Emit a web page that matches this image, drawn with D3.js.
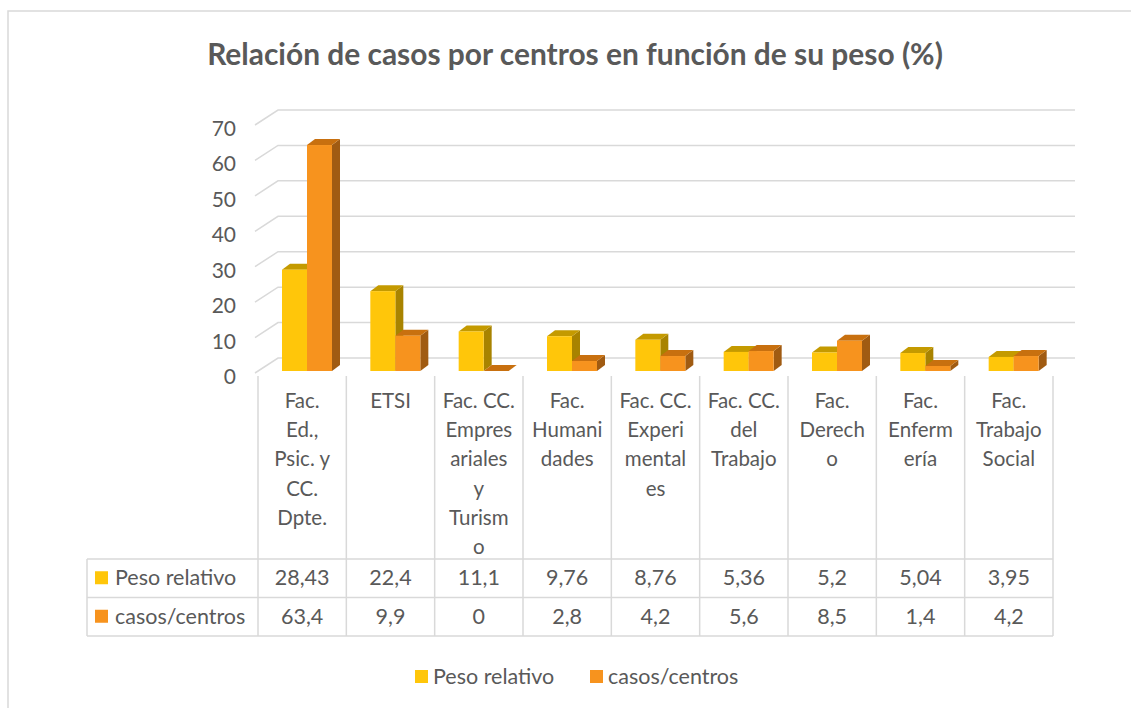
<!DOCTYPE html>
<html>
<head>
<meta charset="utf-8">
<script src="https://cdn.jsdelivr.net/npm/d3@7"></script>
<style>
  body { margin: 0; background: #fff; }
  text { font-family: Lato, 'Open Sans', sans-serif; fill: #595959; }
</style>
</head>
<body>
<div id="chart"></div>
<script>
const title = 'Relación de casos por centros en función de su peso (%)'
const categories = [
    ['Fac.', 'Ed.,', 'Psic. y', 'CC.', 'Dpte.'],
    ['ETSI'],
    ['Fac. CC.', 'Empres', 'ariales', 'y', 'Turism', 'o'],
    ['Fac.', 'Humani', 'dades'],
    ['Fac. CC.', 'Experi', 'mental', 'es'],
    ['Fac. CC.', 'del', 'Trabajo'],
    ['Fac.', 'Derech', 'o'],
    ['Fac.', 'Enferm', 'ería'],
    ['Fac.', 'Trabajo', 'Social'],
]
const seriesNames = ['Peso relativo', 'casos/centros']
const pesoRelativo = [28.43, 22.4, 11.1, 9.76, 8.76, 5.36, 5.2, 5.04, 3.95]
const casosCentros = [63.4, 9.9, 0, 2.8, 4.2, 5.6, 8.5, 1.4, 4.2]
const yTicks = [0, 10, 20, 30, 40, 50, 60, 70]

const width = 1131
const height = 708
const colors = [
    { front: '#FFC60A', top: '#C49A00', side: '#A88300' },
    { front: '#F7931E', top: '#C8700F', side: '#A05B12' },
]
const gridColor = '#d9d9d9'
const fmt = (v) => String(v).replace('.', ',')

const series = [pesoRelativo, casosCentros]
const idx = d3.range(categories.length)

const x = d3.scaleBand().domain(idx).range([258, 1053])
const yFront = d3.scaleLinear().domain([0, 70]).range([373, 125])
const yBar = d3.scaleLinear().domain([0, 70]).range([371, 121.5])
const depth = { dx: 23, dy: -15 }
const barDepth = { dx: 8, dy: -6 }
const barW = 25
const barOffset = 24

const svg = d3
    .select('#chart')
    .append('svg')
    .attr('width', width)
    .attr('height', height)

// chart frame
svg.append('rect')
    .attr('x', 8)
    .attr('y', 11)
    .attr('width', width)
    .attr('height', height)
    .attr('fill', 'none')
    .attr('stroke', gridColor)
    .attr('stroke-width', 1.5)

// title
const titleNode = svg
    .append('text')
    .attr('x', 575)
    .attr('y', 65)
    .attr('text-anchor', 'middle')
    .style('font-size', '24px')
    .style('font-weight', 'bold')
    .text(title)
const tw = titleNode.node().getComputedTextLength()
titleNode.style('font-size', `${(24 * 736) / tw}px`)

// back wall gridlines
const grid = svg.append('g').attr('class', 'grid')
grid.selectAll('path')
    .data(yTicks)
    .enter()
    .append('path')
    .attr('d', (d) => {
        const x0 = x.range()[0] - 3
        const y0 = yFront(d)
        return `M${x0},${y0} L${x0 + depth.dx},${y0 + depth.dy} L1075,${y0 + depth.dy}`
    })
    .attr('fill', 'none')
    .attr('stroke', gridColor)
    .attr('stroke-width', 1.5)

// y labels
svg.append('g')
    .selectAll('text')
    .data(yTicks)
    .enter()
    .append('text')
    .attr('x', 236)
    .attr('y', (d) => yFront(d) + 11)
    .attr('text-anchor', 'end')
    .style('font-size', '21px')
    .text((d) => d)

// 3D bars
const bars = svg.append('g').attr('class', 'bars')
series.forEach((vals, s) => {
    const g = bars.append('g')
    idx.forEach((i) => {
        const x0 = x(i) + barOffset + s * barW
        const x1 = x0 + barW
        const yb = yBar(0)
        const yt = yBar(vals[i])
        const c = colors[s]
        g.append('path')
            .attr('d', `M${x1},${yb} L${x1 + barDepth.dx},${yb + barDepth.dy} L${x1 + barDepth.dx},${yt + barDepth.dy} L${x1},${yt} Z`)
            .attr('fill', c.side)
        g.append('path')
            .attr('d', `M${x0},${yt} L${x0 + barDepth.dx},${yt + barDepth.dy} L${x1 + barDepth.dx},${yt + barDepth.dy} L${x1},${yt} Z`)
            .attr('fill', c.top)
        g.append('rect')
            .attr('x', x0)
            .attr('y', yt)
            .attr('width', barW)
            .attr('height', yb - yt)
            .attr('fill', c.front)
    })
})

// data table
const tableLeft = 87
const rowTop = 559
const rowH = 38.5
const table = svg.append('g').attr('class', 'table')
const lineAttrs = (sel) =>
    sel.attr('stroke', gridColor).attr('stroke-width', 1.5)

table.selectAll('.vline')
    .data(d3.range(categories.length + 1))
    .enter()
    .append('line')
    .attr('class', 'vline')
    .attr('x1', (d) => (d === categories.length ? x.range()[1] : x(d)))
    .attr('x2', (d) => (d === categories.length ? x.range()[1] : x(d)))
    .attr('y1', 376)
    .attr('y2', rowTop + rowH * 2)
    .call(lineAttrs)

table.selectAll('.hline')
    .data([0, 1, 2])
    .enter()
    .append('line')
    .attr('class', 'hline')
    .attr('x1', tableLeft)
    .attr('x2', x.range()[1])
    .attr('y1', (d) => rowTop + rowH * d)
    .attr('y2', (d) => rowTop + rowH * d)
    .call(lineAttrs)

table.append('line')
    .attr('x1', tableLeft)
    .attr('x2', tableLeft)
    .attr('y1', rowTop)
    .attr('y2', rowTop + rowH * 2)
    .call(lineAttrs)

// category labels
const catLabels = table
    .selectAll('.cat')
    .data(categories)
    .enter()
    .append('text')
    .attr('class', 'cat')
    .attr('text-anchor', 'middle')
    .style('font-size', '20.5px')
categories.forEach((lines, i) => {
    d3.select(catLabels.nodes()[i])
        .selectAll('tspan')
        .data(lines)
        .enter()
        .append('tspan')
        .attr('x', x(i) + x.bandwidth() / 2)
        .attr('y', (d, k) => 408 + k * 29.2)
        .text((d) => d)
})

// rows
series.forEach((vals, s) => {
    const cy = rowTop + rowH * s + rowH / 2
    table.append('rect')
        .attr('x', 95)
        .attr('y', cy - 7)
        .attr('width', 13)
        .attr('height', 13)
        .attr('fill', colors[s].front)
    table.append('text')
        .attr('x', 115)
        .attr('y', cy + 7)
        .style('font-size', '21.5px')
        .text(seriesNames[s])
    table.selectAll(`.val${s}`)
        .data(vals)
        .enter()
        .append('text')
        .attr('x', (d, i) => x(i) + x.bandwidth() / 2)
        .attr('y', cy + 7)
        .attr('text-anchor', 'middle')
        .style('font-size', '21.5px')
        .text((d) => fmt(d))
})

// legend
const legend = svg.append('g').attr('transform', 'translate(415, 677)')
const legendX = [0, 175]
seriesNames.forEach((name, s) => {
    legend.append('rect')
        .attr('x', legendX[s])
        .attr('y', -7)
        .attr('width', 13)
        .attr('height', 13)
        .attr('fill', colors[s].front)
    legend.append('text')
        .attr('x', legendX[s] + 18)
        .attr('y', 7)
        .style('font-size', '21.5px')
        .text(name)
})
</script>
</body>
</html>
